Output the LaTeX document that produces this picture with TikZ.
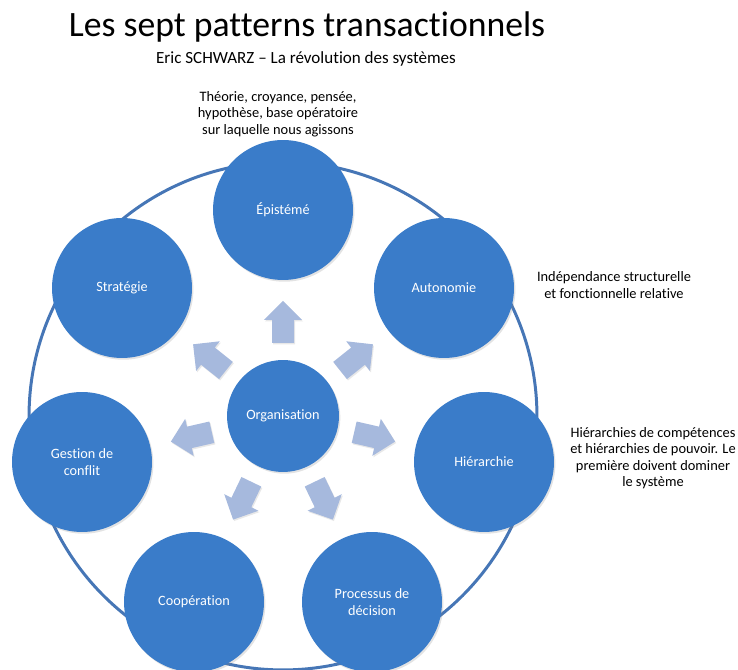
\documentclass[tikz,border=0pt]{standalone}
\usepackage{fontspec}
\setmainfont{Carlito}[Ligatures={NoCommon}]
\usepackage{xcolor}
\usetikzlibrary{shadows}
\definecolor{bub}{RGB}{58,124,201}
\definecolor{ring}{RGB}{70,118,182}
\definecolor{blk}{RGB}{166,185,221}

\begin{document}
\begin{tikzpicture}[x=0.02cm,y=0.02cm,
  bubble/.style={circle,fill=bub,minimum size=2.8cm,inner sep=0pt,align=center,text=white,
    font=\fontsize{8.1}{9.6}\selectfont,drop shadow={opacity=0.22,shadow xshift=0.8pt,shadow yshift=-1pt}},
  note/.style={align=center,font=\fontsize{8.2}{9.4}\selectfont},
  blkarr/.style={fill=blk,drop shadow={opacity=0.18,shadow xshift=0.6pt,shadow yshift=-0.8pt}}]
\useasboundingbox (0,0) rectangle (738,670);
\node (title) at (307,643) {\fontsize{20.3}{24}\selectfont Les sept patterns transactionnels};
\node (sub) at (306,611) {\fontsize{9.7}{11}\selectfont Eric SCHWARZ – La révolution des systèmes};
\coordinate (O) at (283,254);
\draw[ring,line width=1.7pt] (O) circle (5.08cm);
% outward block arrows
\foreach \a in {90,38.57,-12.86,-64.29,-115.71,-167.14,141.43}{
  \fill[blkarr,shift={(O)},rotate=\a] (73,-11) -- (96,-11) -- (96,-19) -- (115,0) -- (96,19) -- (96,11) -- (73,11) -- cycle;}
\node[bubble,minimum size=2.24cm] (org) at (O) {Organisation};
\node[bubble] (epi) at (283,460) {Épistémé};
\node[bubble] (auto) at (444,382) {Autonomie};
\node[bubble] (hier) at (484,208) {Hiérarchie};
\node[bubble] (proc) at (372,68) {Processus de\\décision};
\node[bubble] (coop) at (194,68) {Coopération};
\node[bubble] (gest) at (82,208) {Gestion de\\conflit};
\node[bubble] (strat) at (122,382) {Stratégie};
\node[note] (n1) at (278,556) {Théorie, croyance, pensée,\\hypothèse, base opératoire\\sur laquelle nous agissons};
\node[note] (n2) at (614,385) {Indépendance structurelle\\et fonctionnelle relative};
\node[note] (n3) at (653,212) {Hiérarchies de compétences\\et hiérarchies de pouvoir. Le\\première doivent dominer\\le système};
\end{tikzpicture}
\end{document}
